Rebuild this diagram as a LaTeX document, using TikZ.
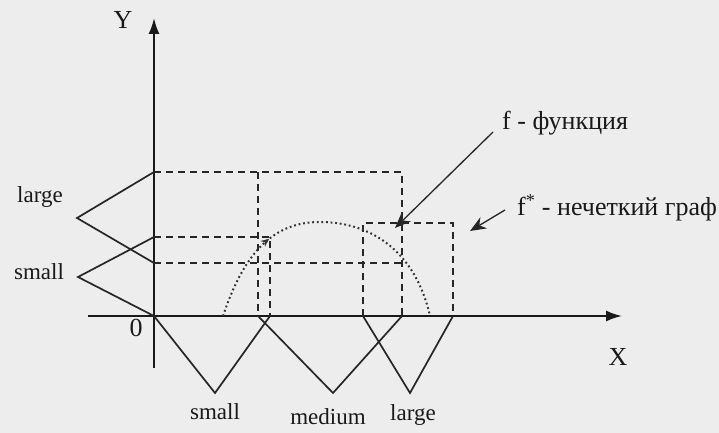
\documentclass[tikz,border=0pt]{standalone}
\usepackage{fontspec}
\setmainfont{Liberation Serif}
\usetikzlibrary{arrows.meta,decorations.markings}

\begin{document}
\begin{tikzpicture}[x=1pt,y=-1pt,
    axis/.style={black!90,line width=2pt,-{Latex[length=16pt,width=11pt]}},
    mf/.style={black!85,line width=1.7pt},
    proj/.style={black!85,line width=2pt,dash pattern=on 7pt off 5pt},
    fcurve/.style={black!80,line width=2pt,dash pattern=on 1.8pt off 2.8pt},
    ptr/.style={black!85,line width=1.3pt,-{Stealth[length=16pt,width=13pt]}},
    big/.style={font=\fontsize{26}{28}\selectfont},
    every node/.style={font=\fontsize{23}{25}\selectfont,text=black!90,inner sep=2pt}]
  \fill[black!7] (0,0) rectangle (719,433);
  \useasboundingbox (0,0) rectangle (719,433);
  % axes
  \coordinate (O) at (154,316);
  \coordinate (ytop) at (154,18);
  \coordinate (ybot) at (154,368);
  \coordinate (xbeg) at (88,316);
  \coordinate (xend) at (622,316);
  \draw[axis] (ybot) -- (ytop);
  \draw[axis] (xbeg) -- (xend);
  \node[big] (ylbl) at (123,20) {Y};
  \node[big] (xlbl) at (618,357) {X};
  \node[big] (zero) at (136,328) {0};
  % terms on Y
  \coordinate (yl1) at (154,172);
  \coordinate (ylp) at (77,218);
  \coordinate (yl2) at (154,263);
  \coordinate (ys1) at (154,237);
  \coordinate (ysp) at (78,277);
  \draw[mf] (yl1) -- (ylp) -- (yl2);
  \draw[mf] (ys1) -- (ysp) -- (O);
  \node (ylarge) at (40,197) {large};
  \node (ysmall) at (39,272) {small};
  % terms on X
  \coordinate (xsp) at (215,393);
  \coordinate (xs2) at (270,316);
  \coordinate (xm1) at (258,316);
  \coordinate (xmp) at (333,393);
  \coordinate (xm2) at (402,316);
  \coordinate (xl1) at (363,316);
  \coordinate (xlp) at (410,393);
  \coordinate (xl2) at (453,316);
  \draw[mf] (O) -- (xsp) -- (xs2);
  \draw[mf] (xm1) -- (xmp) -- (xm2);
  \draw[mf] (xl1) -- (xlp) -- (xl2);
  \node (xsmall) at (215,412) {small};
  \node (xmedium) at (328,417) {medium};
  \node (xlarge) at (413,415) {large};
  % fuzzy graph
  \coordinate (r1) at (258,172);
  \coordinate (r2) at (402,172);
  \coordinate (r3) at (402,263);
  \coordinate (r4) at (270,237);
  \coordinate (r5) at (363,223);
  \coordinate (r6) at (453,223);
  \draw[proj] (yl1) -- (r2) -- (xm2);
  \draw[proj] (yl2) -- (r3);
  \draw[proj] (r1) -- (xm1);
  \draw[proj] (ys1) -- (r4) -- (xs2);
  \draw[proj] (xl1) -- (r5) -- (r6) -- (xl2);
  % function f
  \coordinate (fa) at (223,316);
  \coordinate (fp) at (320,222);
  \coordinate (fb) at (430,316);
  \draw[fcurve,postaction={decorate,decoration={markings,
      mark=at position 0.3 with {\arrow{Stealth[length=8pt,width=7pt]}}}}]
    (fa) .. controls (245,250) and (275,222) .. (fp)
         .. controls (370,222) and (415,250) .. (fb);
  % labels
  \node[big,anchor=west] (flbl) at (500,123) {f - функция};
  \node[big,anchor=west] (fslbl) at (515,208) {f\textsuperscript{*} - нечеткий граф};
  \coordinate (ftip) at (395,228);
  \coordinate (fstip) at (470,231);
  \draw[ptr] ([xshift=-7pt,yshift=-9pt]flbl.west) -- (ftip);
  \draw[ptr] ([xshift=-10pt,yshift=-2pt]fslbl.west) -- (fstip);
\end{tikzpicture}
\end{document}
